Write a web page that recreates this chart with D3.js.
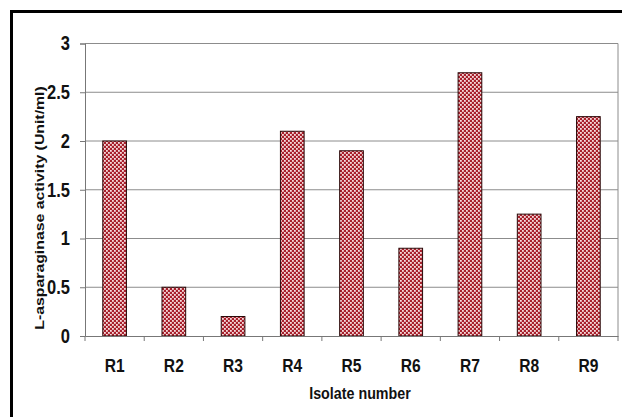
<!DOCTYPE html>
<html><head><meta charset="utf-8">
<script src="https://cdn.jsdelivr.net/npm/d3@7"></script>
<style>body{margin:0;background:#fff}svg{display:block}</style>
</head><body>
<script>
const categories = ["R1","R2","R3","R4","R5","R6","R7","R8","R9"];
const values = [2.0,0.5,0.2,2.1,1.9,0.9,2.7,1.25,2.25];
const yTicks = [0,0.5,1,1.5,2,2.5,3];
const yTickLabels = ["0","0.5","1","1.5","2","2.5","3"];

const W=622,H=417;
const FONT="Liberation Sans, Arial, sans-serif";
const svg=d3.select("body").append("svg").attr("width",W).attr("height",H);
const defs=svg.append("defs");
const pat=defs.append("pattern").attr("id","dots").attr("patternUnits","userSpaceOnUse")
  .attr("width",4).attr("height",4);
pat.append("rect").attr("width",4).attr("height",4).attr("fill","#a8202c");
pat.append("rect").attr("x",0).attr("y",0).attr("width",1.8).attr("height",1.8).attr("fill","#f6dcdd");
pat.append("rect").attr("x",2).attr("y",2).attr("width",1.8).attr("height",1.8).attr("fill","#f6dcdd");

// outer frame
svg.append("rect").attr("x",11.5).attr("y",11.5).attr("width",W+20).attr("height",H+20)
  .attr("fill","none").attr("stroke","#000").attr("stroke-width",3);

const L=85,R=618,T=43.5,B=336;
const x=d3.scaleBand().domain(categories).range([L,R]).paddingInner(0).paddingOuter(0);
const y=d3.scaleLinear().domain([0,3]).range([B,T]);

// gridlines
svg.append("g").selectAll("line").data(yTicks.filter(d=>d>0)).join("line")
  .attr("x1",L).attr("x2",R).attr("y1",d=>y(d)).attr("y2",d=>y(d))
  .attr("stroke","#8c8c8c").attr("stroke-width",1);
svg.append("line").attr("x1",R).attr("x2",R).attr("y1",T).attr("y2",B).attr("stroke","#8c8c8c");

// bars
const bw=x.bandwidth()*0.4;
svg.append("g").selectAll("rect").data(values).join("rect")
  .attr("x",(d,i)=>x(categories[i])+x.bandwidth()/2-bw/2)
  .attr("y",d=>y(d)).attr("width",bw).attr("height",d=>B-y(d))
  .attr("fill","url(#dots)").attr("stroke","#2a0a0a").attr("stroke-width",1);

// y axis
const ya=svg.append("g").attr("transform",`translate(${L},0)`)
  .call(d3.axisLeft(y).tickValues(yTicks).tickFormat("").tickSizeOuter(0).tickSize(5));
ya.select(".domain").attr("stroke","#777");
ya.selectAll(".tick line").attr("stroke","#777");
svg.append("g").selectAll("text").data(yTicks).join("text")
  .attr("transform",d=>`translate(70,${y(d)+6.8}) scale(1,1.2)`)
  .attr("text-anchor","end").attr("font-family",FONT).attr("font-size",16.5)
  .attr("font-weight","bold").attr("fill","#111").text((d,i)=>yTickLabels[i]);

// x axis
const xa=svg.append("g").attr("transform",`translate(0,${B})`)
  .call(d3.axisBottom(x).tickSize(0).tickSizeOuter(0).tickFormat(""));
xa.select(".domain").attr("stroke","#777");
svg.append("g").selectAll("line").data(d3.range(categories.length+1)).join("line")
  .attr("x1",i=>L+i*x.step()).attr("x2",i=>L+i*x.step()).attr("y1",B).attr("y2",B+5)
  .attr("stroke","#777");
svg.append("g").selectAll("text").data(categories).join("text")
  .attr("transform",d=>`translate(${x(d)+x.bandwidth()/2},372) scale(1,1.2)`)
  .attr("text-anchor","middle").attr("font-family",FONT).attr("font-size",15.6)
  .attr("font-weight","bold").attr("fill","#111").text(d=>d);

svg.append("text").attr("transform","translate(360,399) scale(1,1.2)").attr("text-anchor","middle")
  .attr("font-family",FONT).attr("font-size",14.3).attr("font-weight","bold")
  .attr("fill","#111").text("Isolate number");
svg.append("text").attr("transform",`translate(44,208) rotate(-90) scale(1.2,1)`).attr("text-anchor","middle")
  .attr("font-family",FONT).attr("font-size",13.2).attr("font-weight","bold")
  .attr("fill","#111").text("L-asparaginase activity (Unit/ml)");
</script>
</body></html>
